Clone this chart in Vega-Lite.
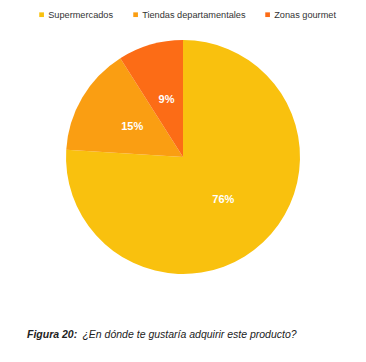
{
  "$schema": "https://vega.github.io/schema/vega-lite/v6.json",
  "width": 366,
  "height": 314,
  "autosize": {"type": "none"},
  "padding": {"left": 0, "top": 0, "right": 0, "bottom": 48},
  "background": "white",
  "data": {"values": [
    {"lugar": "Supermercados", "pct": 76, "orden": 1, "label": "76%"},
    {"lugar": "Tiendas departamentales", "pct": 15, "orden": 2, "label": "15%"},
    {"lugar": "Zonas gourmet", "pct": 9, "orden": 3, "label": "9%"}
  ]},
  "title": {
    "text": "Figura 20:",
    "subtitle": "\u200b\u00a0\u00a0\u00a0\u00a0\u00a0\u00a0\u00a0\u00a0\u00a0\u00a0\u00a0\u00a0\u00a0\u00a0\u00a0\u00a0\u00a0\u00a0\u00a0¿En dónde te gustaría adquirir este producto?",
    "orient": "bottom",
    "anchor": "start",
    "frame": "group",
    "offset": 16,
    "dx": 27,
    "font": "Liberation Sans",
    "fontSize": 10.5,
    "fontStyle": "italic",
    "fontWeight": "bold",
    "color": "#222222",
    "subtitleFont": "Liberation Sans",
    "subtitleFontSize": 10.5,
    "subtitleFontStyle": "italic",
    "subtitleFontWeight": "normal",
    "subtitleColor": "#222222",
    "subtitlePadding": -10.5
  },
  "encoding": {
    "theta": {"field": "pct", "type": "quantitative", "stack": true},
    "order": {"field": "orden", "type": "quantitative"},
    "color": {
      "field": "lugar",
      "type": "nominal",
      "sort": null,
      "scale": {
        "domain": ["Supermercados", "Tiendas departamentales", "Zonas gourmet"],
        "range": ["#F9C10E", "#FA9E12", "#FC6C16"]
      },
      "legend": {
        "orient": "none",
        "direction": "horizontal",
        "legendX": 37,
        "legendY": 10,
        "title": null,
        "padding": 0,
        "symbolType": "square",
        "symbolSize": 22,
        "symbolStrokeWidth": 0,
        "labelOffset": 2,
        "columnPadding": 17,
        "labelFont": "Liberation Sans",
        "labelFontSize": 9.2,
        "labelColor": "#333333"
      }
    }
  },
  "layer": [
    {"mark": {"type": "arc", "outerRadius": 117}},
    {
      "mark": {"type": "text", "radius": 59, "fontWeight": "bold", "fontSize": 11, "font": "Liberation Sans"},
      "encoding": {
        "text": {"field": "label", "type": "nominal"},
        "color": {"value": "white"}
      }
    }
  ]
}
